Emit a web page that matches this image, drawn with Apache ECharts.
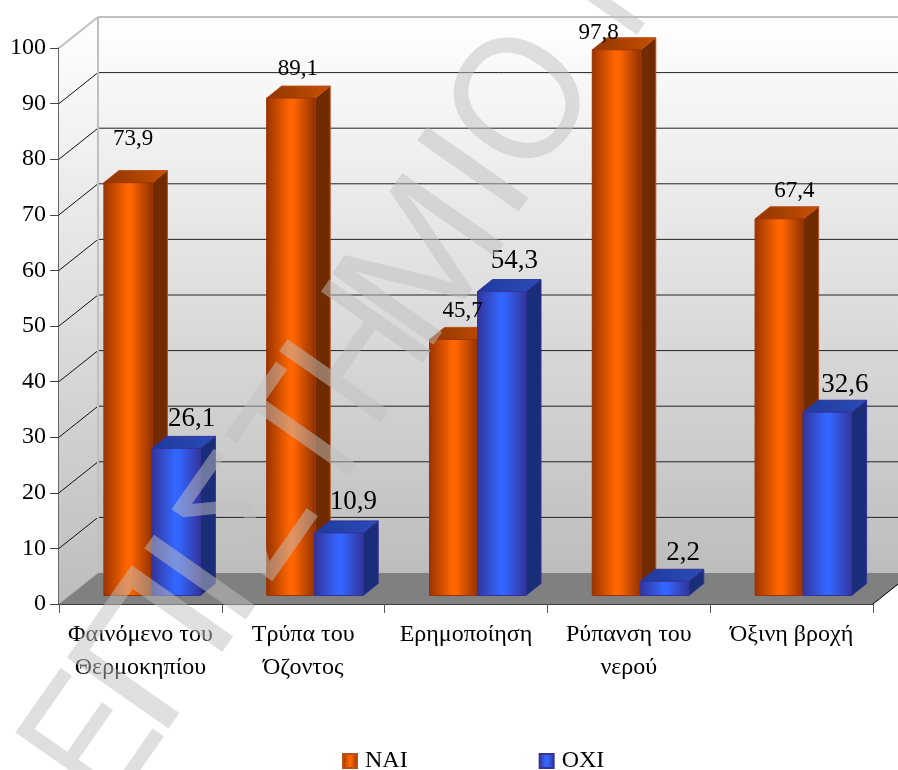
<!DOCTYPE html>
<html><head><meta charset="utf-8">
<style>html,body{margin:0;padding:0;background:#fff}#c{width:898px;height:770px}</style>
<script src="https://cdn.jsdelivr.net/npm/echarts@6/dist/echarts.min.js"></script>
</head><body><div id="c"></div>
<script>
const categories = ['Φαινόμενο του\nΘερμοκηπίου', 'Τρύπα του\nΌζοντος', 'Ερημοποίηση', 'Ρύπανση του\nνερού', 'Όξινη βροχή'];
const nai = [73.9, 89.1, 45.7, 97.8, 67.4];
const oxi = [26.1, 10.9, 54.3, 2.2, 32.6];
const yTicks = [0, 10, 20, 30, 40, 50, 60, 70, 80, 90, 100];
const naiLabelNudge = [[5, -44], [7, -29], [9, -28], [-18, -17], [15, -28]];
const oxiLabelNudge = [[15, -29], [14, -31], [12, -31], [18, -28], [17, -27]];
const watermarkGlyphs = ['Ε', 'Π', 'Ι', 'Σ', 'Τ', 'Η', 'Μ', 'Ι', 'Ο', 'Ν'];
const watermarkCentres = [[78, 730], [140, 640], [190, 570], [234, 507], [291, 427], [345, 344], [408, 252], [463, 162], [507, 91], [603, -46]];
const watermarkStretch = [0.84, 1.12, 1, 0.84, 0.88, 0.87, 1.02, 1, 0.9, 0.93];
const WM_SHIFT_X = 20, WM_SHIFT_Y = 14;

const SERIF = '"Liberation Serif","Times New Roman",serif';
const DEPTH_X = 39, DEPTH_Y = 31;
const BAR_DX = 12, BAR_BASE_DY = 8.5, BAR_TOP_DY = 10.5, BAR_SIDE_X = 15, BAR_SIDE_Y = 12, BAR_RATIO = 0.298;
const G = echarts.graphic.LinearGradient;
const hGrad = (edgeL, mid, edgeR) => new G(0, 0, 1, 0, [{offset: 0, color: edgeL}, {offset: 0.47, color: mid}, {offset: 0.55, color: mid}, {offset: 1, color: edgeR}]);
const PAL = {
  nai: {front: hGrad('#993300', '#FF6600', '#8f3000'), side: '#702c00', top: new G(0, 0, 1, 0, [{offset: 0, color: '#8f3500'}, {offset: 1, color: '#c85000'}]), border: '#b8501c', frontBorder: '#993300'},
  oxi: {front: hGrad('#333399', '#3366FF', '#333399'), side: '#1a2d78', top: new G(0, 0, 1, 0, [{offset: 0, color: '#1f3a9e'}, {offset: 1, color: '#2a4cb8'}]), border: '#333399', frontBorder: '#333399'}
};

function wallItem(params, api) {
  const cs = params.coordSys, x0 = cs.x, x1 = cs.x + cs.width, yB = cs.y + cs.height, yT = cs.y;
  const kids = [];
  const wallFill = new G(0, 0, 0, 1, [{offset: 0, color: '#ffffff'}, {offset: 1, color: '#bdbdbd'}]);
  kids.push({type: 'polygon', shape: {points: [[x0, yB], [x0 + DEPTH_X, yB - DEPTH_Y], [x0 + DEPTH_X, yT - DEPTH_Y], [x0, yT]]}, style: {fill: wallFill}});
  kids.push({type: 'rect', shape: {x: x0 + DEPTH_X, y: yT - DEPTH_Y, width: cs.width, height: cs.height}, style: {fill: wallFill}});
  kids.push({type: 'polygon', shape: {points: [[x0, yB], [x0 + DEPTH_X, yB - DEPTH_Y], [x1 + DEPTH_X, yB - DEPTH_Y], [x1, yB]]}, style: {fill: '#808080'}});
  yTicks.forEach(v => {
    const y = api.coord([0, v])[1];
    if (v > 0 && v < 100) {
      kids.push({type: 'line', shape: {x1: x0 + DEPTH_X, y1: y - DEPTH_Y, x2: x1 + DEPTH_X, y2: y - DEPTH_Y}, style: {stroke: '#222', lineWidth: 1}});
      kids.push({type: 'line', shape: {x1: x0, y1: y, x2: x0 + DEPTH_X, y2: y - DEPTH_Y}, style: {stroke: '#111', lineWidth: 1}});
    }
  });
  const border = {stroke: '#c0c0c0', lineWidth: 2};
  kids.push({type: 'line', shape: {x1: x0 + DEPTH_X, y1: yT - DEPTH_Y, x2: x1 + DEPTH_X, y2: yT - DEPTH_Y}, style: border});
  kids.push({type: 'line', shape: {x1: x0, y1: yT, x2: x0 + DEPTH_X, y2: yT - DEPTH_Y}, style: border});
  kids.push({type: 'line', shape: {x1: x0 + DEPTH_X, y1: yT - DEPTH_Y, x2: x0 + DEPTH_X, y2: yB - DEPTH_Y}, style: border});
  kids.push({type: 'line', shape: {x1: x0, y1: yB, x2: x0 + DEPTH_X, y2: yB - DEPTH_Y}, style: {stroke: '#a0a0a0', lineWidth: 1}});
  kids.push({type: 'line', shape: {x1: x1, y1: yB, x2: x1 + DEPTH_X, y2: yB - DEPTH_Y}, style: {stroke: '#000', lineWidth: 1}});
  return {type: 'group', children: kids};
}

function barRenderer(pal, side) {
  return function (params, api) {
    const i = api.value(0), v = api.value(1);
    const w = api.size([1, 0])[0] * BAR_RATIO;
    const cx = api.coord([i, 0])[0] + BAR_DX;
    const l = side < 0 ? cx - w : cx - 0.5, r = l + w;
    const b = api.coord([i, 0])[1] - BAR_BASE_DY;
    const t = api.coord([i, v])[1] - BAR_TOP_DY;
    const sx = BAR_SIDE_X, sy = BAR_SIDE_Y;
    return {type: 'group', children: [
      {type: 'polygon', shape: {points: [[r, b], [r + sx, b - sy], [r + sx, t - sy], [r, t]]}, style: {fill: pal.side, stroke: pal.border, lineWidth: 1}},
      {type: 'polygon', shape: {points: [[l, t], [l + sx, t - sy], [r + sx, t - sy], [r, t]]}, style: {fill: pal.top, stroke: pal.border, lineWidth: 1}},
      {type: 'rect', shape: {x: l, y: t, width: w, height: b - t}, style: {fill: pal.front, stroke: pal.frontBorder, lineWidth: 1}}
    ]};
  };
}

function labelRenderer(values, nudge, size) {
  return function (params, api) {
    const i = api.value(0), v = api.value(1), s = api.size([1, 0])[0] * BAR_RATIO;
    const cx = api.coord([i, 0])[0] + BAR_DX + (size < 25 ? -s / 2 : s / 2);
    const t = api.coord([i, v])[1] - BAR_TOP_DY;
    return {type: 'text', style: {text: String(v).replace('.', ','), x: cx + nudge[i][0], y: t + nudge[i][1], align: 'center', verticalAlign: 'middle', font: size + 'px ' + SERIF, fill: '#000'}};
  };
}

const chart = echarts.init(document.getElementById('c'), null, {renderer: 'canvas'});
const toPairs = a => a.map((v, i) => [i, v]);
chart.setOption({
  animation: false,
  backgroundColor: '#fff',
  grid: {left: 59, right: 25, top: 48, bottom: 166, containLabel: false},
  legend: {
    left: 337, top: 744, itemWidth: 14, itemHeight: 14, itemGap: 131, icon: 'rect',
    data: ['ΝΑΙ', 'ΟΧΙ'], selectedMode: false,
    textStyle: {fontFamily: SERIF, fontSize: 24, color: '#000', padding: [0, 0, 0, 3]}
  },
  xAxis: {
    type: 'category', data: categories,
    axisLine: {lineStyle: {color: '#000', width: 1.5}},
    axisTick: {show: true, alignWithLabel: false, length: 9, lineStyle: {color: '#555', width: 1}},
    axisLabel: {fontFamily: SERIF, fontSize: 24, color: '#000', margin: 14, lineHeight: 33, interval: 0},
    splitLine: {show: false}
  },
  yAxis: {
    type: 'value', min: 0, max: 100, interval: 10,
    axisLine: {show: true, lineStyle: {color: '#666', width: 2}},
    axisTick: {show: true, length: 9, lineStyle: {color: '#444', width: 1}},
    axisLabel: {fontFamily: SERIF, fontSize: 24, color: '#000', margin: 13},
    splitLine: {show: false}
  },
  series: [
    {type: 'custom', name: 'wall', data: [[0, 0]], renderItem: wallItem, silent: true, clip: false, z: 1},
    {type: 'custom', name: 'ΝΑΙ', data: toPairs(nai), renderItem: barRenderer(PAL.nai, -1), clip: false, z: 3,
     itemStyle: {color: hGrad('#993300', '#FF6600', '#993300'), borderColor: '#b8501c', borderWidth: 1}},
    {type: 'custom', name: 'ΟΧΙ', data: toPairs(oxi), renderItem: barRenderer(PAL.oxi, 1), clip: false, z: 4,
     itemStyle: {color: hGrad('#333399', '#3366FF', '#333399'), borderColor: '#333399', borderWidth: 1}},
    {type: 'custom', name: 'naiLabels', data: toPairs(nai), renderItem: labelRenderer(nai, naiLabelNudge, 23), silent: true, clip: false, z: 5},
    {type: 'custom', name: 'oxiLabels', data: toPairs(oxi), renderItem: labelRenderer(oxi, oxiLabelNudge, 27), silent: true, clip: false, z: 5}
  ],
  graphic: watermarkGlyphs.map((ch, i) => ({
    type: 'text', x: watermarkCentres[i][0] + WM_SHIFT_X, y: watermarkCentres[i][1] + WM_SHIFT_Y, rotation: 55 * Math.PI / 180,
    scaleX: watermarkStretch[i], z: 100, silent: true,
    style: {text: ch, font: '180px "Liberation Sans",Arial,sans-serif', fill: 'rgba(192,192,192,0.5)', align: 'center', verticalAlign: 'middle'}
  }))
});
</script></body></html>
